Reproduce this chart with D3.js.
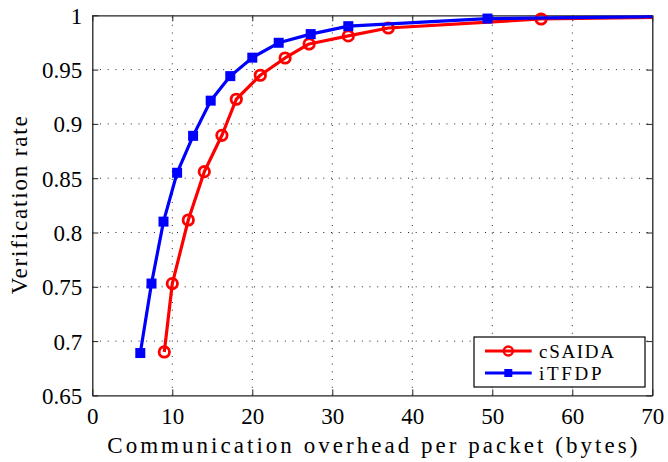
<!DOCTYPE html>
<html>
<head>
<meta charset="utf-8">
<script src="https://cdn.jsdelivr.net/npm/d3@7"></script>
<style>
  body { margin: 0; background: #fff; }
  svg text { font-family: "Liberation Serif", "DejaVu Serif", "Times New Roman", serif; fill: #000; }
</style>
</head>
<body>
<div id="chart"></div>
<script>
// overhead (bytes) and verification rate
var csaidaX = [9, 10, 12, 14, 16.2, 18, 21, 24.1, 27.1, 32, 37, 56.1, 80];
var csaidaY = [0.690, 0.753, 0.8115, 0.856, 0.8895, 0.9227, 0.9448, 0.9607, 0.9736, 0.981, 0.9883, 0.9966, 0.999];
var itfdpX = [6, 7.4, 8.9, 10.6, 12.6, 14.8, 17.25, 20, 23.3, 27.3, 32, 49.4, 80];
var itfdpY = [0.689, 0.753, 0.810, 0.855, 0.889, 0.9214, 0.944, 0.961, 0.9747, 0.9827, 0.990, 0.997, 0.9997];
var seriesNames = ["cSAIDA", "iTFDP"];
var xTicks = [0, 10, 20, 30, 40, 50, 60, 70];
var yTicks = [0.65, 0.7, 0.75, 0.8, 0.85, 0.9, 0.95, 1];

var W = 668, H = 462;
var margin = {top: 15.3, right: 15.7, bottom: 66.6, left: 92.3},
    width = W - margin.left - margin.right,
    height = H - margin.top - margin.bottom;

var svg = d3.select("#chart")
  .append("svg")
    .attr("width", W)
    .attr("height", H)
  .append("g")
    .attr("transform", "translate(" + margin.left + "," + margin.top + ")");

var x = d3.scaleLinear().domain([0, 70]).range([0, width]);
var y = d3.scaleLinear().domain([0.65, 1]).range([height, 0]);

svg.append("defs").append("clipPath").attr("id", "clip")
  .append("rect").attr("width", width).attr("height", height);

// dotted grid
var grid = svg.append("g")
  .attr("stroke", "#222")
  .attr("stroke-width", 1)
  .attr("stroke-dasharray", "1,6.7");
grid.selectAll(".gx").data(xTicks.slice(1, -1)).enter().append("line")
  .attr("x1", d => x(d)).attr("x2", d => x(d))
  .attr("y1", height).attr("y2", 0);
grid.selectAll(".gy").data(yTicks.slice(1, -1)).enter().append("line")
  .attr("y1", d => y(d)).attr("y2", d => y(d))
  .attr("x1", 0).attr("x2", width);

// axes with inward ticks on all sides
var tl = 6;
svg.append("g")
  .attr("transform", "translate(0," + height + ")")
  .call(d3.axisBottom(x).tickValues(xTicks).tickSizeInner(-tl).tickSizeOuter(0).tickPadding(10))
  .call(g => g.selectAll("text").attr("font-size", 23).attr("dy", "0.8em"));
svg.append("g")
  .call(d3.axisTop(x).tickValues(xTicks).tickSizeInner(-tl).tickSizeOuter(0).tickFormat(""));
svg.append("g")
  .call(d3.axisLeft(y).tickValues(yTicks).tickSizeInner(-tl).tickSizeOuter(0).tickPadding(10)
    .tickFormat(d => d3.format("")(+d.toFixed(2))))
  .call(g => g.selectAll("text").attr("font-size", 23).attr("dy", "0.35em"));
svg.append("g")
  .attr("transform", "translate(" + width + ",0)")
  .call(d3.axisRight(y).tickValues(yTicks).tickSizeInner(-tl).tickSizeOuter(0).tickFormat(""));
svg.selectAll(".domain").attr("stroke", "#222").attr("stroke-width", 1.3);
svg.selectAll(".tick line").attr("stroke", "#222");

var series = [
  {name: seriesNames[0], xs: csaidaX, ys: csaidaY, color: "#ff0000", marker: "circle"},
  {name: seriesNames[1], xs: itfdpX, ys: itfdpY, color: "#0000ff", marker: "square"}
];

var line = d3.line().x(d => x(d[0])).y(d => y(d[1]));

series.forEach(function(s) {
  var pts = s.xs.map((v, i) => [v, s.ys[i]]);
  svg.append("path")
    .datum(pts)
    .attr("clip-path", "url(#clip)")
    .attr("fill", "none")
    .attr("stroke", s.color)
    .attr("stroke-width", 3.2)
    .attr("stroke-linejoin", "round")
    .attr("d", line);
  var inside = pts.filter(d => d[0] <= 70);
  if (s.marker == "circle") {
    svg.selectAll(null).data(inside).enter().append("circle")
      .attr("cx", d => x(d[0])).attr("cy", d => y(d[1]))
      .attr("r", 5.2)
      .attr("fill", "none")
      .attr("stroke", s.color)
      .attr("stroke-width", 2.8);
  } else {
    svg.selectAll(null).data(inside).enter().append("rect")
      .attr("x", d => x(d[0]) - 4).attr("y", d => y(d[1]) - 4)
      .attr("width", 8).attr("height", 8)
      .attr("fill", s.color)
      .attr("stroke", s.color)
      .attr("stroke-width", 2);
  }
});

// axis labels
svg.append("text")
  .attr("x", width / 2).attr("y", height + 58)
  .attr("text-anchor", "middle")
  .attr("font-size", 23)
  .attr("textLength", 530).attr("lengthAdjust", "spacing")
  .text("Communication overhead per packet (bytes)");
svg.append("text")
  .attr("transform", "translate(" + (-65) + "," + (height / 2) + ") rotate(-90)")
  .attr("text-anchor", "middle")
  .attr("font-size", 23)
  .attr("textLength", 178).attr("lengthAdjust", "spacing")
  .text("Verification rate");

// legend
var lg = svg.append("g").attr("transform", "translate(" + (474 - margin.left) + "," + (337 - margin.top) + ")");
lg.append("rect").attr("width", 171).attr("height", 50)
  .attr("fill", "#fff").attr("stroke", "#000").attr("stroke-width", 1.2);
series.forEach(function(s, i) {
  var cy = 14 + i * 22;
  var row = lg.append("g").attr("transform", "translate(0," + cy + ")");
  row.append("line").attr("x1", 11).attr("x2", 57.7)
    .attr("stroke", s.color).attr("stroke-width", 3.2);
  if (s.marker == "circle") {
    row.append("circle").attr("cx", 34.3).attr("r", 4.5)
      .attr("fill", "none").attr("stroke", s.color).attr("stroke-width", 2.5);
  } else {
    row.append("rect").attr("x", 30.3).attr("y", -4).attr("width", 8).attr("height", 8)
      .attr("fill", s.color);
  }
  row.append("text").attr("x", 65).attr("dy", "0.35em")
    .attr("font-size", 19)
    .attr("textLength", s.name.length * 12.5).attr("lengthAdjust", "spacing")
    .text(s.name);
});
</script>
</body>
</html>
